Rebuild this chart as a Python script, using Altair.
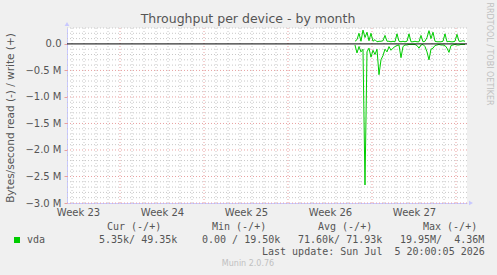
import altair as alt
import numpy as np
import pandas as pd

# ---- data (days since Sun 2026-05-31 00:00, 4-hour samples) ----
start_day = 26.583
step_day = 1.0 / 6.0
write_M = [0.05, 0.08, 0.20, 0.05, 0.26, 0.12, 0.22, 0.06, 0.20, 0.05,
           0.08, 0.04, 0.05, 0.05, 0.06, 0.16, 0.05, 0.05, 0.04, 0.05,
           0.04, 0.19, 0.05, 0.04, 0.05, 0.04, 0.05, 0.19, 0.04, 0.04,
           0.05, 0.04, 0.04, 0.16, 0.04, 0.05, 0.12, 0.25, 0.10, 0.22,
           0.05, 0.04, 0.04, 0.04, 0.05, 0.19, 0.04, 0.05, 0.04, 0.04,
           0.05, 0.18, 0.05, 0.05, 0.06, 0.05]
read_M = [0.02, 0.17, 0.05, 0.15, 0.10, 2.66, 0.15, 0.08, 0.25, 0.12,
          0.20, 0.10, 0.58, 0.30, 0.22, 0.10, 0.15, 0.05, 0.12, 0.08,
          0.05, 0.03, 0.02, 0.26, 0.05, 0.02, 0.02, 0.01, 0.01, 0.01,
          0.01, 0.03, 0.08, 0.02, 0.01, 0.05, 0.15, 0.30, 0.10, 0.08,
          0.03, 0.02, 0.01, 0.02, 0.02, 0.03, 0.08, 0.16, 0.03, 0.02,
          0.01, 0.02, 0.02, 0.01, 0.01, 0.01]
days = [start_day + i * step_day for i in range(len(write_M))]

week_label_days = [3.5, 10.5, 17.5, 24.5, 31.5]
week_boundaries = [7, 14, 21, 28, 35]
y_major = [-3.0, -2.5, -2.0, -1.5, -1.0, -0.5, 0.0]

NB = "\u00a0"
legend_headers = ["Cur (-/+)", "Min (-/+)", "Avg (-/+)", "Max (-/+)"]
legend_values = ["5.35k/ 49.35k", "0.00 / 19.50k", "71.60k/ 71.93k", "19.95M/  4.36M"]
series_name = "vda"
title_text = "Throughput per device - by month"
y_title = "Bytes/second read (-) / write (+)"
last_update = "Last update: Sun Jul  5 20:00:05 2026"
footer = "Munin 2.0.76"
side_text = "RRDTOOL / TOBI OETIKER"

X_DOMAIN = [2.583, 35.917]
Y_DOMAIN = [-3.0, 0.3]
GREEN = "#00cc00"
TXT = "#555555"
AXIS_BLUE = "#c8c8ff"
W, H = 400, 175
PL, PT = 67, 28

df = pd.DataFrame({"day": days + days,
                   "val": write_M + [-v for v in read_M],
                   "series": ["write"] * len(days) + ["read"] * len(days)})

xs = alt.Scale(domain=X_DOMAIN, nice=False, zero=False)
ys = alt.Scale(domain=Y_DOMAIN, nice=False, zero=False)

x_axis = alt.Axis(values=week_label_days, title=None, grid=False, ticks=False,
                  domainColor=AXIS_BLUE, labelColor=TXT, labelFontSize=10,
                  labelFont="DejaVu Sans", labelPadding=4,
                  labelExpr="'Week ' + (23 + round((datum.value - 3.5) / 7))")
y_axis = alt.Axis(values=y_major, title=None, grid=False, tickSize=3,
                  tickColor="#e8a0a0", domainColor=AXIS_BLUE, labelColor=TXT,
                  labelFontSize=10, labelFont="DejaVu Sans", labelPadding=3,
                  labelExpr="datum.value == 0 ? '0.0' : format(datum.value, '.1f') + ' M'")

day_grid = pd.DataFrame({"day": [d for d in range(3, 36) if d % 7 != 0]})
week_grid = pd.DataFrame({"day": week_boundaries})
minor_vals = [round(v, 1) for v in np.arange(-30, 4) / 10.0 if round(v * 10) % 5 != 0]
minor_grid = pd.DataFrame({"val": minor_vals})
major_grid = pd.DataFrame({"val": y_major[:-1]})

X = alt.X("day:Q", scale=xs, axis=x_axis)
Y = alt.Y("val:Q", scale=ys, axis=y_axis)

grid_day = alt.Chart(day_grid).mark_rule(color="#c8c8c8", strokeDash=[1, 2], strokeWidth=1).encode(x=X)
grid_minor = alt.Chart(minor_grid).mark_rule(color="#c8c8c8", strokeDash=[1, 2], strokeWidth=1).encode(y=Y)
grid_week = alt.Chart(week_grid).mark_rule(color="#e8a0a0", strokeDash=[1, 2], strokeWidth=1).encode(x=X)
grid_major = alt.Chart(major_grid).mark_rule(color="#e8a0a0", strokeDash=[1, 2], strokeWidth=1).encode(y=Y)

lines = alt.Chart(df).mark_line(color=GREEN, strokeWidth=1, interpolate="linear").encode(
    x=X, y=Y, detail="series:N")

zero = alt.Chart(pd.DataFrame({"val": [0.0]})).mark_rule(color="black", strokeWidth=1).encode(y=Y)

one = alt.Data(values=[{"k": 1}])


def txt(text, x, y, size=10, font="DejaVu Sans", color=TXT, align="left", angle=0, baseline="middle"):
    return alt.Chart(one).mark_text(text=text.replace(" ", NB), fontSize=size, font=font, color=color,
                                    align=align, baseline=baseline, angle=angle).encode(
        x=alt.value(x - PL), y=alt.value(y - PT))


layers = [grid_day, grid_minor, grid_week, grid_major, lines, zero]

# axis arrows
layers.append(alt.Chart(one).mark_point(shape="triangle-up", filled=True, color=AXIS_BLUE, size=22, opacity=1).encode(
    x=alt.value(0), y=alt.value(-4)))
layers.append(alt.Chart(one).mark_point(shape="triangle-right", filled=True, color=AXIS_BLUE, size=22, opacity=1).encode(
    x=alt.value(W + 4), y=alt.value(H)))

layers.append(txt(title_text, 248, 19, size=12.5, align="center"))
layers.append(txt(y_title, 11, 118, size=10.5, align="center", angle=270))
layers.append(txt(side_text, 489, 54, size=8, color="#c0c0c0", align="center", angle=90))

mono = "DejaVu Sans Mono"
header_x = [107, 212, 318, 423]
value_x = [99, 202, 298, 400]
for h, hx in zip(legend_headers, header_x):
    layers.append(txt(h, hx, 227, font=mono))
for v, vx in zip(legend_values, value_x):
    layers.append(txt(v, vx, 240, font=mono))
layers.append(txt(series_name, 27, 240, font=mono))
layers.append(alt.Chart(one).mark_square(color=GREEN, size=36, opacity=1).encode(
    x=alt.value(17 - PL), y=alt.value(240 - PT)))
layers.append(txt(last_update, 262, 252, font=mono))
layers.append(txt(footer, 248, 264, size=8, color="#c0c0c0", align="center"))

chart = alt.layer(*layers).properties(
    width=W, height=H,
    padding={"left": PL, "top": PT, "right": 497 - PL - W, "bottom": 275 - PT - H},
    autosize=alt.AutoSizeParams(type="none"),
    background="#f0f0f0",
).configure_view(fill="white", stroke=None)

chart.save("out.html", embed_options={"renderer": "svg", "actions": False})
